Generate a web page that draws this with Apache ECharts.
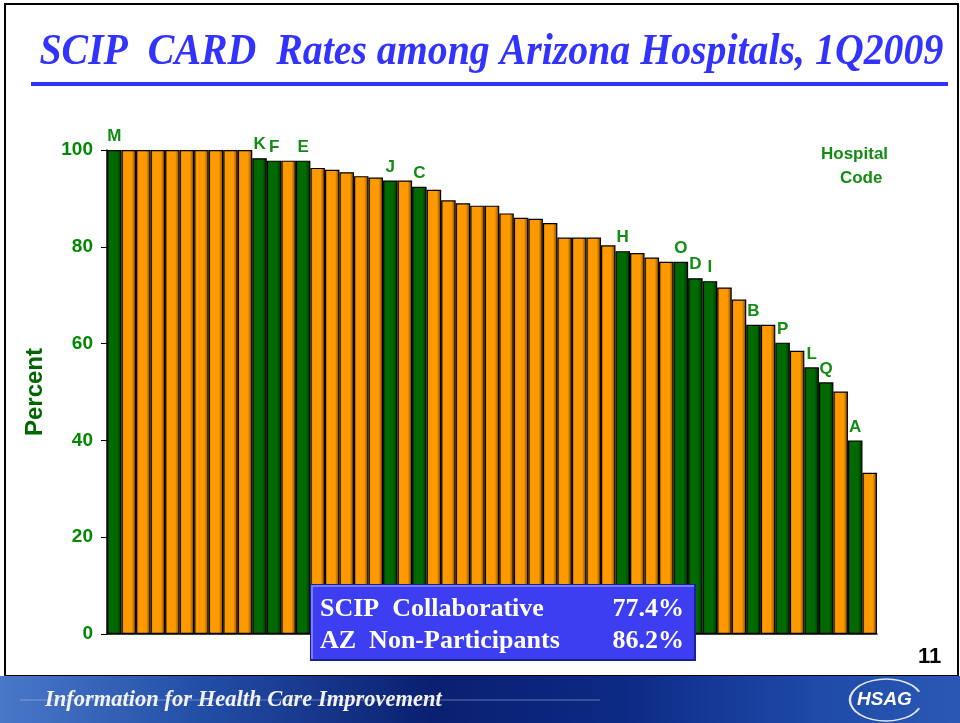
<!DOCTYPE html>
<html>
<head>
<meta charset="utf-8">
<script src="https://cdn.jsdelivr.net/npm/echarts@6/dist/echarts.min.js"></script>
<style>
  html, body { margin: 0; padding: 0; background: #fff; }
  #main { width: 960px; height: 723px; }
</style>
</head>
<body>
<div id="main"></div>
<script>
// hospital rates, sorted high to low; participants carry a code letter
const rates = [
  100, 100, 100, 100, 100, 100, 100, 100, 100, 100,
  98.3, 97.8, 97.8, 97.8, 96.3, 95.9, 95.4, 94.6, 94.3, 93.7,
  93.7, 92.4, 91.8, 89.6, 89.0, 88.5, 88.5, 86.9, 86.0, 85.8,
  84.9, 81.9, 81.9, 81.9, 80.3, 79.1, 78.7, 77.8, 76.9, 76.9,
  73.5, 72.9, 71.6, 69.1, 63.9, 63.9, 60.2, 58.5, 55.1, 52.0,
  50.1, 40.0, 33.3
]
const codes = [
  'M', '', '', '', '', '', '', '', '', '',
  'K', 'F', '', 'E', '', '', '', '', '', 'J',
  '', 'C', '', '', '', '', '', '', '', '',
  '', '', '', '', '', 'H', '', '', '', 'O',
  'D', 'I', '', '', 'B', '', 'P', '', 'L', 'Q',
  '', 'A', ''
]
const yTicks = [0, 20, 40, 60, 80, 100]
const summaryRows = ['SCIP  Collaborative', 'AZ  Non-Participants']
const summaryValues = ['77.4%', '86.2%']

const greenFill = new echarts.graphic.LinearGradient(0, 0, 1, 0, [
  { offset: 0, color: '#004a00' },
  { offset: 0.18, color: '#006a00' },
  { offset: 0.7, color: '#006a00' },
  { offset: 1, color: '#002800' }
])
const orangeFill = new echarts.graphic.LinearGradient(0, 0, 1, 0, [
  { offset: 0, color: '#c77800' },
  { offset: 0.18, color: '#ff9900' },
  { offset: 0.7, color: '#ff9900' },
  { offset: 1, color: '#6e4000' }
])

const barData = rates.map((v, i) => ({
  value: v,
  itemStyle: { color: codes[i] ? greenFill : orangeFill }
}))

const chart = echarts.init(document.getElementById('main'), null, { renderer: 'canvas' })

const boxFont = { fill: '#fff', fontSize: 26, fontWeight: 'bold', fontFamily: 'Liberation Serif' }

const option = {
  backgroundColor: '#fff',
  animation: false,
  grid: { left: 107, right: 83, top: 150, bottom: 89 },
  xAxis: {
    type: 'category',
    data: rates.map((v, i) => i),
    axisLine: { lineStyle: { color: '#000', width: 1.5 } },
    axisTick: { show: false },
    axisLabel: { show: false }
  },
  yAxis: {
    type: 'value',
    min: 0,
    max: 100,
    interval: 20,
    name: 'Percent',
    nameLocation: 'middle',
    nameRotate: 90,
    nameGap: 60,
    nameTextStyle: { color: '#006600', fontSize: 24, fontWeight: 'bold', fontFamily: 'Liberation Sans' },
    axisLine: { show: true, lineStyle: { color: '#000', width: 1.5 } },
    axisTick: { show: true, length: 6, lineStyle: { color: '#000' } },
    splitLine: { show: false },
    axisLabel: {
      color: '#008800',
      fontSize: 19,
      fontWeight: 'bold',
      fontFamily: 'Liberation Sans',
      margin: 14,
      formatter: v => (yTicks.indexOf(v) >= 0 ? v : '')
    }
  },
  series: [
    {
      type: 'bar',
      data: barData,
      barCategoryGap: '0%',
      itemStyle: { borderColor: '#000', borderWidth: 1.2 },
      label: {
        show: true,
        position: 'top',
        distance: 5,
        color: '#138c13',
        fontSize: 17,
        fontWeight: 'bold',
        fontFamily: 'Liberation Sans',
        formatter: p => codes[p.dataIndex]
      }
    }
  ],
  graphic: [
    // slide frame
    { type: 'rect', shape: { x: 5, y: 4, width: 953, height: 672 }, style: { fill: null, stroke: '#000', lineWidth: 2 }, silent: true },
    {
      type: 'text', x: 36, y: 53, scaleX: 0.905, originX: 36,
      style: {
        text: 'SCIP  CARD  Rates among Arizona Hospitals, 1Q2009',
        fill: '#3333ff', fontSize: 44, fontStyle: 'italic', fontWeight: 'bold', fontFamily: 'Liberation Serif',
        verticalAlign: 'middle'
      }
    },
    { type: 'rect', shape: { x: 31, y: 82, width: 917, height: 4 }, style: { fill: '#3333ff' } },
    {
      type: 'text', left: 821, top: 142,
      style: {
        text: 'Hospital\n    Code', fill: '#138c13', fontSize: 17, fontWeight: 'bold',
        fontFamily: 'Liberation Sans', lineHeight: 24
      }
    },
    // summary box
    {
      type: 'rect', shape: { x: 311, y: 585, width: 384, height: 75 },
      style: { fill: '#3d3df2', stroke: '#1e1e9a', lineWidth: 2 }, z: 10
    },
    { type: 'polyline', shape: { points: [[312, 659], [312, 586], [694, 586]] }, style: { stroke: '#7a7aff', lineWidth: 2 }, z: 11 },
    { type: 'text', x: 320, y: 609, z: 12, style: Object.assign({ text: summaryRows[0], verticalAlign: 'middle' }, boxFont) },
    { type: 'text', x: 320, y: 641, z: 12, style: Object.assign({ text: summaryRows[1], verticalAlign: 'middle' }, boxFont) },
    { type: 'text', x: 684, y: 609, z: 12, style: Object.assign({ text: summaryValues[0], verticalAlign: 'middle', align: 'right' }, boxFont) },
    { type: 'text', x: 684, y: 641, z: 12, style: Object.assign({ text: summaryValues[1], verticalAlign: 'middle', align: 'right' }, boxFont) },
    {
      type: 'text', x: 918, y: 657,
      style: { text: '11', fill: '#000', fontSize: 22, fontWeight: 'bold', fontFamily: 'Liberation Sans', verticalAlign: 'middle' }
    },
    // footer banner
    {
      type: 'rect', shape: { x: 0, y: 676, width: 960, height: 47 },
      style: {
        fill: new echarts.graphic.LinearGradient(0, 0, 1, 0, [
          { offset: 0, color: '#4a78c8' },
          { offset: 0.2, color: '#2450a8' },
          { offset: 0.45, color: '#0a1f70' },
          { offset: 0.65, color: '#0c2a85' },
          { offset: 0.85, color: '#1f4aa8' },
          { offset: 1, color: '#2b58b5' }
        ])
      }
    },
    { type: 'line', shape: { x1: 20, y1: 700, x2: 600, y2: 700 }, style: { stroke: 'rgba(180,200,255,0.5)', lineWidth: 1 } },
    {
      type: 'text', x: 44, y: 700, scaleX: 0.98, originX: 44,
      style: {
        text: 'Information for Health Care Improvement', fill: '#f2f2f2', fontSize: 23,
        fontStyle: 'italic', fontWeight: 'bold', fontFamily: 'Liberation Serif', verticalAlign: 'middle'
      }
    },
    {
      type: 'arc', shape: { cx: 886, cy: 700, r: 30, startAngle: 0.4, endAngle: Math.PI * 2 - 0.4 },
      scaleX: 1.2, scaleY: 0.7, originX: 886, originY: 700,
      style: { stroke: '#dfe6f5', lineWidth: 2, fill: null }
    },
    {
      type: 'text', left: 857, top: 690,
      style: { text: 'HSAG', fill: '#fff', fontSize: 19, fontWeight: 'bold', fontStyle: 'italic', fontFamily: 'Liberation Sans' }
    }
  ]
}

chart.setOption(option)
</script>
</body>
</html>
